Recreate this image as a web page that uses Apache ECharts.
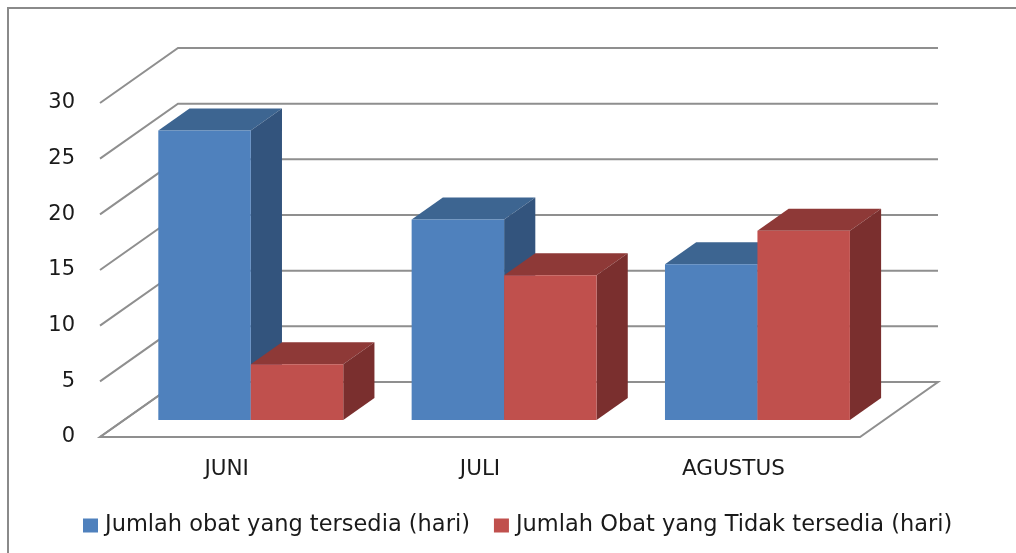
<!DOCTYPE html>
<html>
<head>
<meta charset="utf-8">
<script src="https://cdn.jsdelivr.net/npm/echarts@6/dist/echarts.min.js"></script>
<style>
  html, body { margin: 0; padding: 0; background: #fff; }
  #chart { width: 1016px; height: 553px; }
</style>
</head>
<body>
<div id="chart"></div>
<script>
var categories = ['JUNI', 'JULI', 'AGUSTUS'];
var tersedia = [26, 18, 14];
var tidakTersedia = [5, 13, 17];
var yTicks = [0, 5, 10, 15, 20, 25, 30];
var seriesNames = ['Jumlah obat yang tersedia (hari)', 'Jumlah Obat yang Tidak tersedia (hari)'];

// depth of the floor in pixels (x right, y up)
var depth = [78, -55];
var barFront = 17 / 55;
var barDepth = 22 / 55;

var faces = [
  { front: '#4F81BD', top: '#3D6591', side: '#33547D' },
  { front: '#C0504D', top: '#8E3937', side: '#7A2F2E' }
];

function wallItem(params, api) {
  var cs = params.coordSys;
  var v = api.value(0);
  var y = api.coord([0, v])[1];
  var x0 = cs.x, x1 = cs.x + cs.width;
  var style = { stroke: '#8f8f8f', lineWidth: 2, fill: null };
  var children = [{
    type: 'polyline',
    shape: { points: [[x0, y], [x0 + depth[0], y + depth[1]], [x1 + depth[0], y + depth[1]]] },
    style: style
  }];
  if (v === 0) {
    children.push({
      type: 'polygon',
      shape: { points: [[x0, y], [x1, y], [x1 + depth[0], y + depth[1]], [x0 + depth[0], y + depth[1]]] },
      style: style
    });
  }
  return { type: 'group', children: children };
}

function barRenderer(idx) {
  return function (params, api) {
    var cat = api.value(0);
    var val = api.value(1);
    var band = api.size([1, 0])[0];
    var w = band * 0.365;
    var c = api.coord([cat, 0]);
    var top = api.coord([cat, val])[1];
    var ox = depth[0] * barFront, oy = depth[1] * barFront;
    var dx = depth[0] * barDepth, dy = depth[1] * barDepth;
    var xl = c[0] - w + idx * w + ox;
    var xr = xl + w;
    var yb = c[1] + oy;
    var yt = top + oy;
    var f = faces[idx];
    return {
      type: 'group',
      children: [
        { type: 'polygon', shape: { points: [[xl, yt], [xr, yt], [xr + dx, yt + dy], [xl + dx, yt + dy]] }, style: { fill: f.top } },
        { type: 'polygon', shape: { points: [[xr, yt], [xr + dx, yt + dy], [xr + dx, yb + dy], [xr, yb]] }, style: { fill: f.side } },
        { type: 'rect', shape: { x: xl, y: yt, width: w, height: yb - yt }, style: { fill: f.front } }
      ]
    };
  };
}

var chart = echarts.init(document.getElementById('chart'));
var font = 'DejaVu Sans';

var option = {
  animation: false,
  textStyle: { fontFamily: font },
  graphic: [{
    type: 'rect',
    shape: { x: 8, y: 8, width: 1100, height: 700 },
    style: { fill: null, stroke: '#8a8a8a', lineWidth: 2 },
    silent: true
  }],
  grid: { left: 100, right: 156, top: 103, bottom: 116 },
  legend: {
    left: 83,
    top: 514,
    padding: 0,
    itemWidth: 15,
    itemHeight: 14,
    itemGap: 24,
    icon: 'rect',
    textStyle: { fontFamily: font, fontSize: 22.5, color: '#1a1a1a', padding: [0, 0, 0, 2] },
    data: seriesNames
  },
  xAxis: {
    type: 'category',
    data: categories,
    axisLine: { show: false },
    axisTick: { show: false },
    axisLabel: { fontFamily: font, fontSize: 21.5, color: '#1a1a1a', margin: 21 }
  },
  yAxis: {
    type: 'value',
    min: 0,
    max: 30,
    interval: 5,
    axisLine: { show: false },
    axisTick: { show: false },
    splitLine: { show: false },
    axisLabel: { fontFamily: font, fontSize: 21, color: '#1a1a1a', margin: 25 }
  },
  series: [
    {
      type: 'custom',
      name: 'walls',
      silent: true,
      renderItem: wallItem,
      data: yTicks.map(function (v) { return [v]; }),
      encode: { y: 0 },
      z: 1
    },
    {
      type: 'custom',
      name: seriesNames[0],
      itemStyle: { color: faces[0].front },
      renderItem: barRenderer(0),
      data: categories.map(function (c, i) { return [i, tersedia[i]]; }),
      encode: { x: 0, y: 1 },
      z: 2
    },
    {
      type: 'custom',
      name: seriesNames[1],
      itemStyle: { color: faces[1].front },
      renderItem: barRenderer(1),
      data: categories.map(function (c, i) { return [i, tidakTersedia[i]]; }),
      encode: { x: 0, y: 1 },
      z: 2
    }
  ]
};
chart.setOption(option);
</script>
</body>
</html>
